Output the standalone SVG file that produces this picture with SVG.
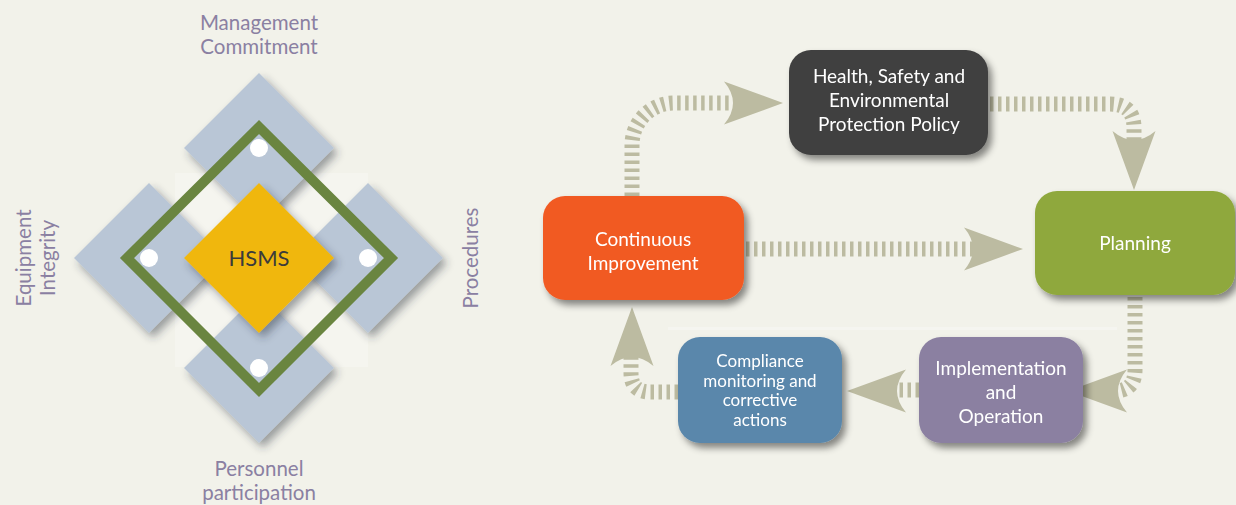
<svg xmlns="http://www.w3.org/2000/svg" xmlns:xlink="http://www.w3.org/1999/xlink" width="1236" height="505" viewBox="0 0 1236 505">
<style>
.lbl{font-family:Lato,"Open Sans","DejaVu Sans",sans-serif;font-size:20.5px;fill:#8a80a2;text-anchor:middle}
.bt{font-family:Lato,"Open Sans","DejaVu Sans",sans-serif;font-size:19px;fill:#ffffff;text-anchor:middle}
.bs{font-size:17px}
.sq{fill:#b9c6d6;filter:url(#sh)}
.dash{fill:none;stroke:#bcbba1;stroke-width:15;stroke-dasharray:3.5 4.5}
.ah{fill:#bcbba1}
.box{filter:url(#bsh)}
</style>
<defs>
<filter id="sh" x="-30%" y="-30%" width="160%" height="160%">
<feDropShadow dx="4" dy="5" stdDeviation="4" flood-color="#2a3040" flood-opacity="0.45"/>
</filter>
<filter id="bsh" x="-20%" y="-20%" width="140%" height="150%">
<feDropShadow dx="4" dy="5" stdDeviation="3.5" flood-color="#000" flood-opacity="0.45"/>
</filter>
<path id="head" d="M0,0 L-59,-21.5 Q-41,0 -59,21.5 Z"/>
</defs>
<rect width="1236" height="505" fill="#f2f2ea"/>
<rect x="175" y="173" width="193" height="194" fill="#f5f5ef"/>
<rect x="668" y="327" width="449" height="3" fill="#f5f5f0"/>

<g id="hsms-diagram">
<g id="sq-top"><path class="sq" d="M259,73 L334,148 L259,223 L184,148 Z"/></g>
<g id="sq-left"><path class="sq" d="M149,183 L224,258 L149,333 L74,258 Z"/></g>
<g id="sq-right"><path class="sq" d="M368,183 L443,258 L368,333 L293,258 Z"/></g>
<g id="sq-bottom"><path class="sq" d="M259,293 L334,368 L259,443 L184,368 Z"/></g>
<g id="ring"><path d="M259,127 L391,258 L259,390 L127,258 Z" fill="none" stroke="#6a8540" stroke-width="10"/></g>
<g id="dots" fill="#ffffff">
<circle cx="259" cy="148" r="9"/>
<circle cx="149" cy="258" r="9"/>
<circle cx="368" cy="258" r="9"/>
<circle cx="259" cy="368" r="9"/>
</g>
<g id="hsms"><path d="M259,183 L334,258 L259,333 L184,258 Z" fill="#f0b70f" filter="url(#sh)"/>
<text x="259" y="266" font-family="Lato,'Open Sans',sans-serif" font-size="22" fill="#3b3b3b" text-anchor="middle">HSMS</text></g>
<g id="lbl-mgmt"><text class="lbl" x="259" y="30">Management</text><text class="lbl" x="259" y="54">Commitment</text></g>
<g id="lbl-equip"><text class="lbl" transform="translate(31,258) rotate(-90)">Equipment</text><text class="lbl" transform="translate(55,258) rotate(-90)">Integrity</text></g>
<g id="lbl-proc"><text class="lbl" transform="translate(478,258) rotate(-90)">Procedures</text></g>
<g id="lbl-pers"><text class="lbl" x="259" y="476">Personnel</text><text class="lbl" x="259" y="500">participation</text></g>
</g>

<g id="connectors">
<path class="dash" d="M632,196 L632,145 A42,42 0 0 1 674,103 L735,103"/>
<use href="#head" class="ah" transform="translate(783,103)"/>
<path class="dash" d="M990,104 L1110,104 Q1134,104 1134,128 L1134,141"/>
<use href="#head" class="ah" transform="translate(1134,190) rotate(90)"/>
<path class="dash" d="M746,249 L975,249"/>
<use href="#head" class="ah" transform="translate(1023,249)"/>
<path class="dash" d="M1135,297 L1135,370 Q1135,391 1114,391"/>
<use href="#head" class="ah" transform="translate(1068,391) rotate(180)"/>
<path class="dash" d="M919,390 L897,390"/>
<use href="#head" class="ah" transform="translate(847,391) rotate(180)"/>
<path class="dash" d="M678,392 L650,392 Q631,392 631,373 L631,357"/>
<use href="#head" class="ah" transform="translate(632,307) rotate(-90)"/>
</g>

<g id="node-policy" class="box"><rect x="789" y="50" width="199" height="105" rx="22" fill="#404040"/>
<text class="bt" x="889" y="83">Health, Safety and</text><text class="bt" x="889" y="107">Environmental</text><text class="bt" x="889" y="131">Protection Policy</text></g>
<g id="node-ci" class="box"><rect x="543" y="196" width="201" height="104" rx="22" fill="#f15a24"/>
<text class="bt" x="643" y="246">Continuous</text><text class="bt" x="643" y="270">Improvement</text></g>
<g id="node-planning" class="box"><rect x="1035" y="191" width="200" height="104" rx="22" fill="#8fa83d"/>
<text class="bt" x="1135" y="250">Planning</text></g>
<g id="node-compliance" class="box"><rect x="678" y="337" width="164" height="106" rx="22" fill="#5a87ab"/>
<text class="bt bs" x="760" y="367">Compliance</text><text class="bt bs" x="760" y="386.5">monitoring and</text><text class="bt bs" x="760" y="406">corrective</text><text class="bt bs" x="760" y="425.5">actions</text></g>
<g id="node-impl" class="box"><rect x="919" y="337" width="164" height="106" rx="22" fill="#8b80a1"/>
<text class="bt" x="1001" y="375">Implementation</text><text class="bt" x="1001" y="399">and</text><text class="bt" x="1001" y="423">Operation</text></g>
</svg>
